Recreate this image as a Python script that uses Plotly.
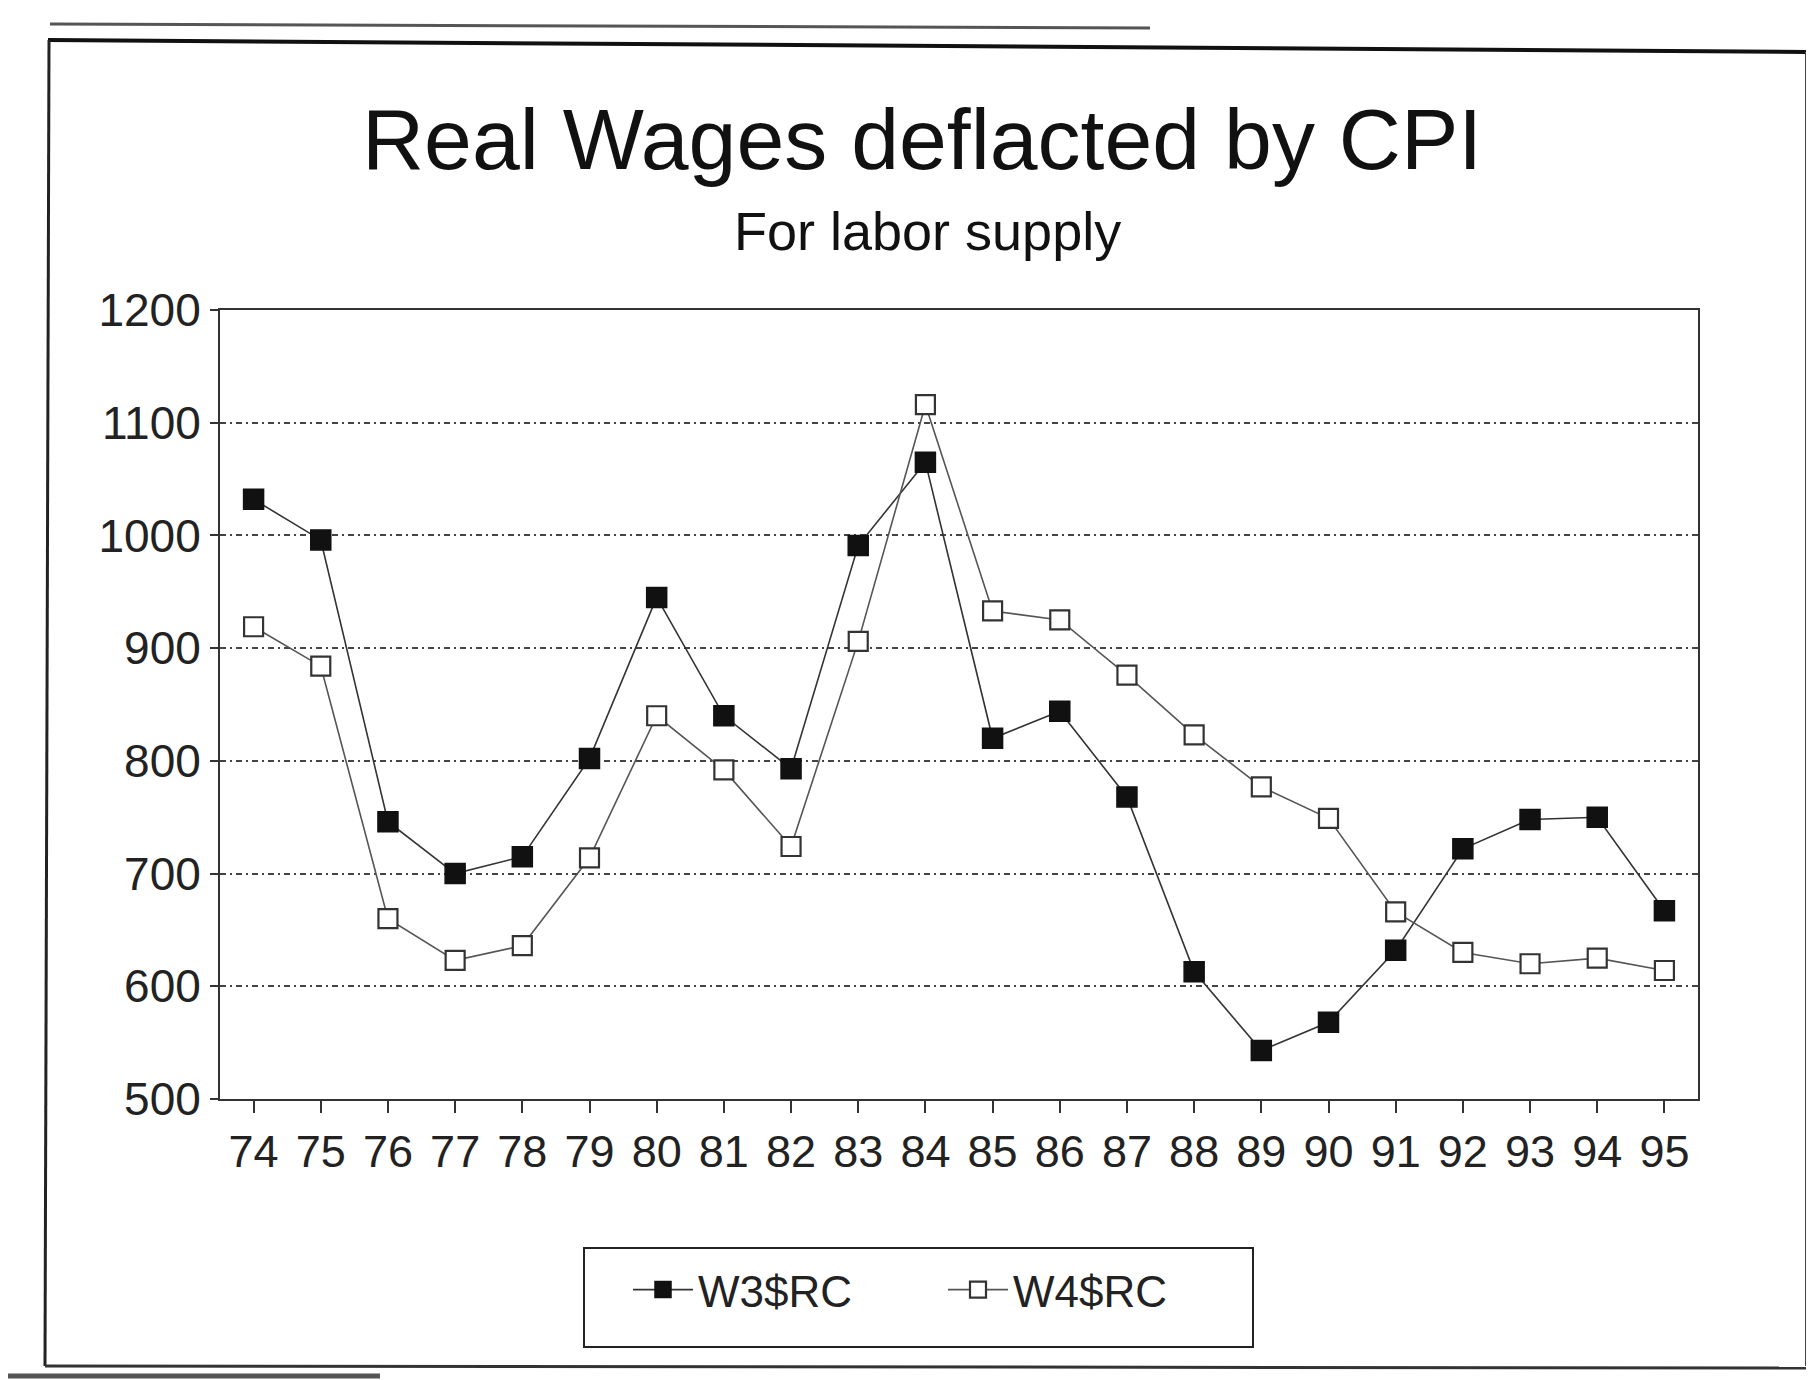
import plotly.graph_objects as go

years = ["74", "75", "76", "77", "78", "79", "80", "81", "82", "83", "84",
         "85", "86", "87", "88", "89", "90", "91", "92", "93", "94", "95"]
w3_values = [1032, 996, 746, 700, 715, 802, 945, 840, 793, 991, 1065,
             820, 844, 768, 613, 543, 568, 632, 722, 748, 750, 667]
w4_values = [919, 884, 660, 623, 636, 714, 840, 792, 724, 906, 1116,
             933, 925, 876, 823, 777, 749, 666, 630, 620, 625, 614]
y_ticks = [500, 600, 700, 800, 900, 1000, 1100, 1200]
series_names = ["W3$RC", "W4$RC"]

# page coordinates (the html body has an 8px margin)
OFF = 8
W, H = 1814, 1380
L, R, T, B = 220, 1698, 310, 1099
FONT = "Liberation Sans, Arial, sans-serif"


def px(x):
    return (x - L) / (R - L)


def py(y):
    return (B - y) / (B - T)


fig = go.Figure()
fig.add_trace(go.Scatter(
    x=years, y=w3_values, name=series_names[0], mode="lines+markers",
    line=dict(color="#333333", width=1.6),
    marker=dict(symbol="square", size=20, color="#111111",
                line=dict(color="#111111", width=1.5)),
))
fig.add_trace(go.Scatter(
    x=years, y=w4_values, name=series_names[1], mode="lines+markers",
    line=dict(color="#555555", width=1.6),
    marker=dict(symbol="square", size=19, color="white",
                line=dict(color="#333333", width=2.2)),
))

fig.update_xaxes(
    type="category", range=[-0.5, len(years) - 0.5],
    showline=True, linecolor="#333333", linewidth=2, mirror=True,
    ticks="outside", ticklen=12, tickcolor="#333333", tickwidth=2,
    tickfont=dict(family=FONT, size=45, color="#222222"),
    showgrid=False, zeroline=False,
)
fig.update_yaxes(
    range=[500, 1200], tickvals=y_ticks,
    showline=True, linecolor="#333333", linewidth=2, mirror=True,
    ticks="outside", ticklen=8, tickcolor="#333333", tickwidth=2,
    tickfont=dict(family=FONT, size=46, color="#222222"),
    zeroline=False, showgrid=True, gridcolor="#444444", gridwidth=1.5,
    griddash="6px,4px,2px,4px",
)

shapes = [
    # scanned page frame
    dict(type="line", xref="paper", yref="paper", x0=px(48), y0=py(40), x1=px(1814), y1=py(52),
         line=dict(color="#111111", width=4)),
    dict(type="line", xref="paper", yref="paper", x0=px(50), y0=py(24), x1=px(1150), y1=py(28),
         line=dict(color="#555555", width=3)),
    dict(type="line", xref="paper", yref="paper", x0=px(49), y0=py(40), x1=px(45), y1=py(1366),
         line=dict(color="#222222", width=3)),
    dict(type="line", xref="paper", yref="paper", x0=px(45), y0=py(1366), x1=px(1814), y1=py(1368),
         line=dict(color="#333333", width=3)),
    dict(type="line", xref="paper", yref="paper", x0=px(1806), y0=py(52), x1=px(1806), y1=py(1366),
         line=dict(color="#444444", width=2)),
    dict(type="line", xref="paper", yref="paper", x0=px(0), y0=py(1376), x1=px(380), y1=py(1376),
         line=dict(color="#555555", width=5)),
    # legend box
    dict(type="rect", xref="paper", yref="paper", x0=px(584), y0=py(1248), x1=px(1253), y1=py(1347),
         line=dict(color="#222222", width=2), fillcolor="rgba(0,0,0,0)"),
]

annotations = [
    dict(text="Real Wages deflacted by CPI", xref="paper", yref="paper",
         x=px(922), y=py(139), xanchor="center", yanchor="middle", showarrow=False,
         font=dict(family=FONT, size=86, color="#111111")),
    dict(text="For labor supply", xref="paper", yref="paper",
         x=px(927), y=py(231), xanchor="center", yanchor="middle", showarrow=False,
         font=dict(family=FONT, size=54, color="#111111")),
]

fig.update_layout(
    width=W - OFF, height=H - OFF,
    margin=dict(l=L - OFF, r=W - R, t=T - OFF, b=H - B),
    paper_bgcolor="white", plot_bgcolor="white",
    showlegend=True,
    legend=dict(orientation="h", x=px(628), y=py(1290), xanchor="left", yanchor="middle",
                borderwidth=0, bgcolor="rgba(0,0,0,0)",
                font=dict(family=FONT, size=44, color="#222222"),
                entrywidth=240, entrywidthmode="pixels", itemwidth=60),
    shapes=shapes, annotations=annotations,
)

fig.write_html("out.html")
